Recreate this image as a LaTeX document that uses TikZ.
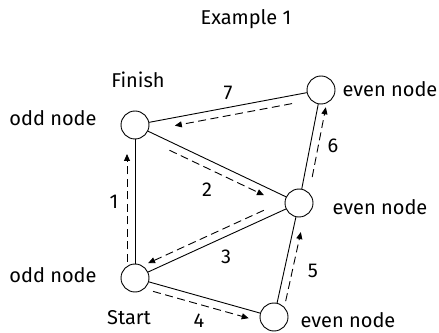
\documentclass[tikz,border=0pt]{standalone}
\usepackage{fontspec}
\setmainfont{Fira Sans}
\usetikzlibrary{arrows.meta,calc}
\tikzset{
  vert/.style={circle,draw=black,fill=white,line width=0.9pt,minimum size=28pt,inner sep=0pt},
  edge/.style={line width=0.9pt},
  walk/.style={line width=0.9pt,dash pattern=on 8pt off 4.5pt,-{Triangle[length=7pt,width=6pt]}},
  tag/.style={font=\fontsize{20}{22}\selectfont,inner sep=0pt},
}
% dashed walk arrow beside the edge #2--#3, side given by #4
\newcommand{\leg}[4][]{\draw[walk,#1] ($(#2)!8pt!#4:(#3)$) -- ($(#3)!-8pt!#4:(#2)$);}

\begin{document}
\begin{tikzpicture}[x=1pt,y=1pt]
  \useasboundingbox (0,0) rectangle (439,332);
  \node[tag] (title) at (246,313) {Example 1};
  % vertices
  \node[vert] (fin) at (135,207) {};
  \node[vert] (sta) at (135,54) {};
  \node[vert] (mid) at (299,129) {};
  \node[vert] (top) at (321,242) {};
  \node[vert] (bot) at (274,15) {};
  % edges
  \draw[edge] (sta) -- (fin);
  \draw[edge] (fin) -- (mid);
  \draw[edge] (mid) -- (sta);
  \draw[edge] (sta) -- (bot);
  \draw[edge] (bot) -- (mid);
  \draw[edge] (mid) -- (top);
  \draw[edge] (top) -- (fin);
  % the walk
  \leg[shorten <=16pt,shorten >=29pt]{sta}{fin}{90}
  \leg[shorten <=42pt,shorten >=35pt]{fin}{mid}{-90}
  \leg[shorten <=35pt,shorten >=18pt]{mid}{sta}{-90}
  \leg[shorten <=21pt,shorten >=24pt]{sta}{bot}{-90}
  \leg[shorten <=18pt,shorten >=28pt]{bot}{mid}{-90}
  \leg[shorten <=28pt,shorten >=16pt]{mid}{top}{-90}
  \leg[shorten <=31pt,shorten >=39pt]{top}{fin}{90}
  % step numbers
  \node[tag] (n1) at (114,130) {1};
  \node[tag] (n2) at (207,142) {2};
  \node[tag] (n3) at (226,75) {3};
  \node[tag] (n4) at (199,11) {4};
  \node[tag] (n5) at (313,61) {5};
  \node[tag] (n6) at (333,186) {6};
  \node[tag] (n7) at (228,239) {7};
  % vertex labels
  \node[tag] (lfin) at (138,252) {Finish};
  \node[tag] (lsta) at (129,14) {Start};
  \node[tag] (ofin) at (53,214) {odd node};
  \node[tag] (osta) at (53,57) {odd node};
  \node[tag] (etop) at (390,243) {even node};
  \node[tag] (emid) at (380,125) {even node};
  \node[tag] (ebot) at (348,12) {even node};
\end{tikzpicture}
\end{document}
